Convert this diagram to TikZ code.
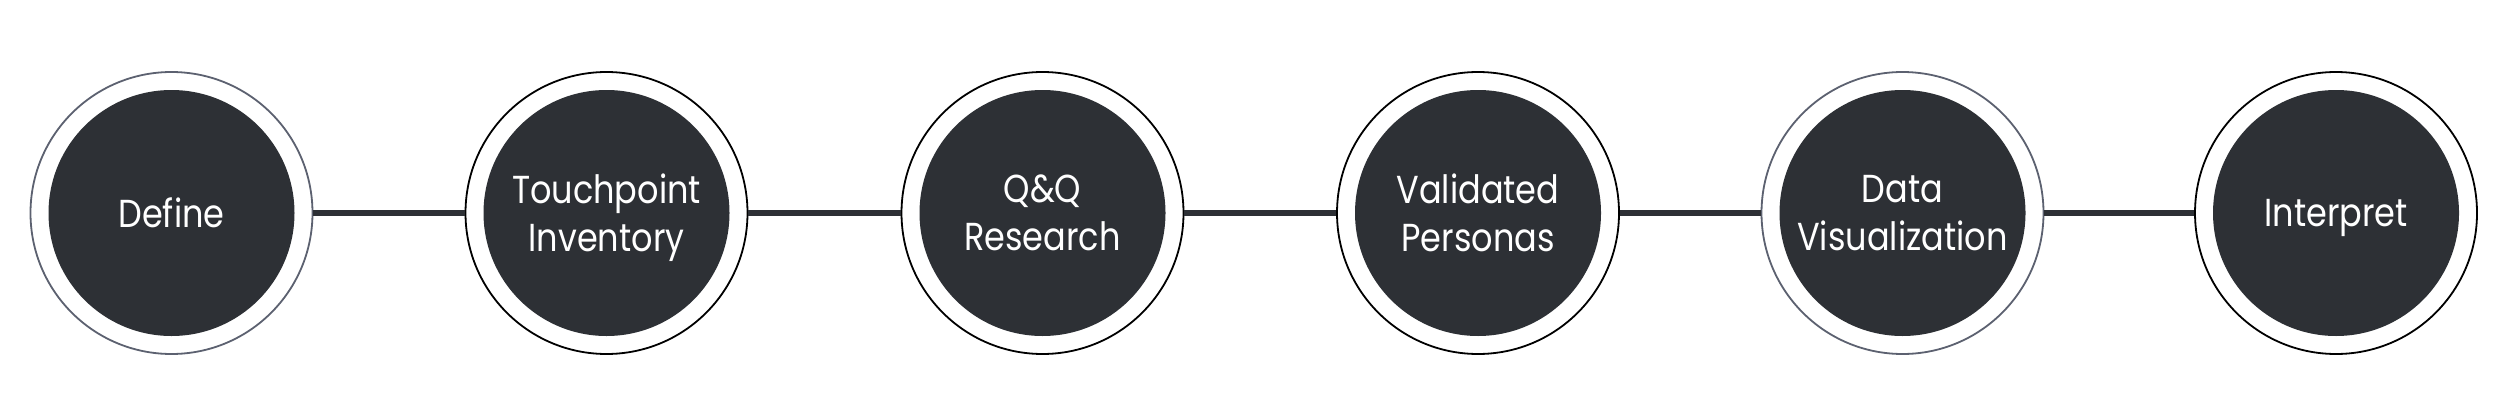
\documentclass[tikz,border=0pt]{standalone}
\usepackage{fontspec}
\setmainfont{Poppins}[FakeStretch=0.86]
\definecolor{dark}{HTML}{2D3035}
\definecolor{ringgray}{HTML}{5C6170}
\tikzset{
  ring/.style={circle, draw=black, line width=1.8pt, fill=white, minimum size=282pt, inner sep=0pt},
  graying/.style={draw=ringgray},
  stage/.style={circle, fill=dark, minimum size=246pt, inner sep=0pt, text=white, align=center,
    text depth=0pt, font=\fontsize{39}{48}\selectfont},
  link/.style={draw=dark, line width=6pt}
}
\begin{document}
\begin{tikzpicture}[x=1pt,y=-1pt]
\useasboundingbox (0,0) rectangle (2500,420);
\fill[white] (0,0) rectangle (2500,420);
\node[ring, graying] (r1) at (171.5,213) {};
\node[ring] (r2) at (606.5,213) {};
\node[ring] (r3) at (1042.5,213) {};
\node[ring] (r4) at (1478,213) {};
\node[ring, graying] (r5) at (1902.5,213) {};
\node[ring] (r6) at (2336,213) {};
\draw[link] (r1.east) -- (r2.west);
\draw[link] (r2.east) -- (r3.west);
\draw[link] (r3.east) -- (r4.west);
\draw[link] (r4.east) -- (r5.west);
\draw[link] (r5.east) -- (r6.west);
\node[stage] (s1) at (r1) {Define};
\node[stage] (s2) at (r2) {Touchpoint\\Inventory};
\node[stage] (s3) at (r3) {Q\&Q\\Research};
\node[stage] (s4) at (r4) {Validated\\Personas};
\node[stage] (s5) at (r5) {Data\\Visualization};
\node[stage] (s6) at (r6) {Interpret};
\end{tikzpicture}
\end{document}
